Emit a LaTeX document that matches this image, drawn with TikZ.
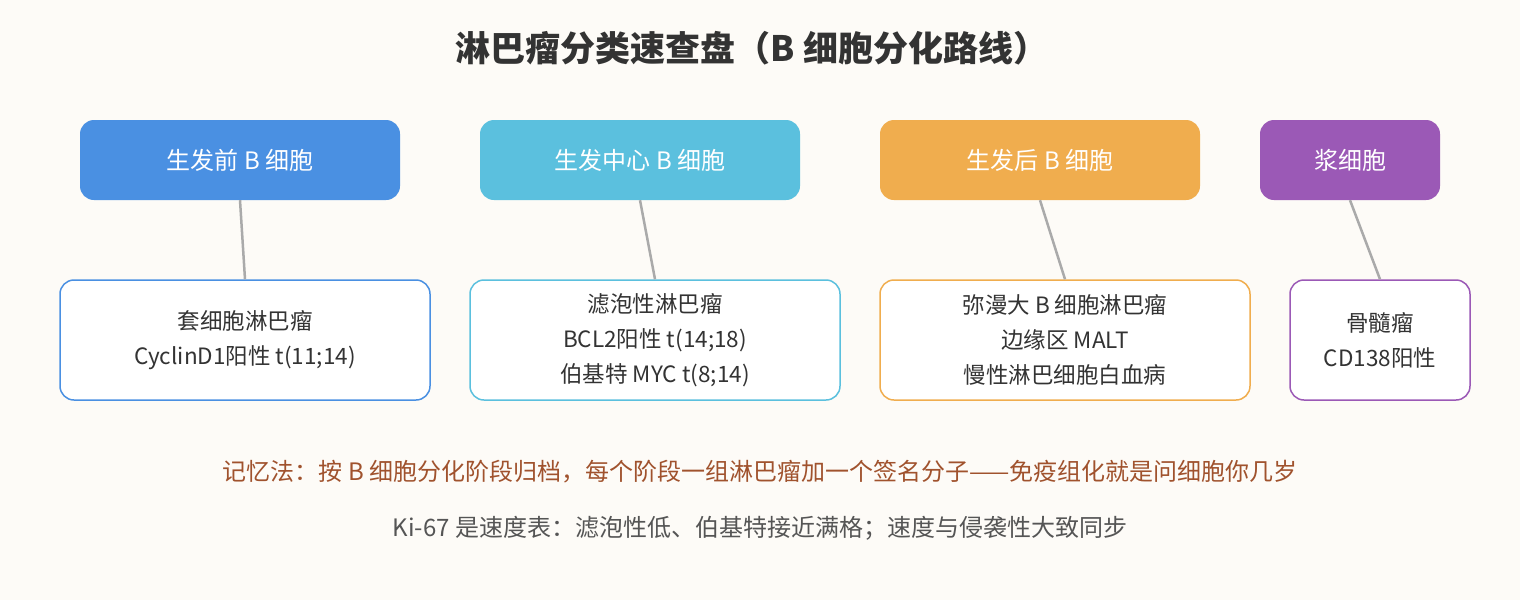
\documentclass[tikz,border=0pt]{standalone}
\usepackage{fontspec}
\setmainfont{Noto Sans CJK SC}
\begin{document}
\begin{tikzpicture}[x=1pt,y=-1pt,
 top/.style={rounded corners=14pt,text=white,font=\fontsize{24}{28}\selectfont,minimum height=80pt,inner sep=0pt},
 bot/.style={rounded corners=14pt,fill=white,draw,line width=1.5pt,text=txt,font=\fontsize{22.5}{35}\selectfont,minimum height=120pt,inner sep=0pt,align=center},
 link/.style={draw=lk,line width=2.5pt}]
\definecolor{bg}{HTML}{FDFBF7}\definecolor{txt}{HTML}{333333}\definecolor{lk}{HTML}{AAAAAA}
\definecolor{c1}{HTML}{4A90E2}\definecolor{c2}{HTML}{5BC0DE}\definecolor{c3}{HTML}{F0AD4E}\definecolor{c4}{HTML}{9B59B6}
\fill[bg] (0,0) rectangle (1520,600);
\useasboundingbox (0,0) rectangle (1520,600);
\node[font=\fontsize{35}{40}\selectfont\bfseries,text=txt] (title) at (752,48) {淋巴瘤分类速查盘（B 细胞分化路线）};
\node[top,fill=c1,minimum width=320pt] (t1) at (240,160) {生发前 B 细胞};
\node[top,fill=c2,minimum width=320pt] (t2) at (640,160) {生发中心 B 细胞};
\node[top,fill=c3,minimum width=320pt] (t3) at (1040,160) {生发后 B 细胞};
\node[top,fill=c4,minimum width=180pt] (t4) at (1350,160) {浆细胞};
\node[bot,draw=c1,minimum width=370pt] (b1) at (245,340) {套细胞淋巴瘤\\CyclinD1阳性 t(11;14)};
\node[bot,draw=c2,minimum width=370pt] (b2) at (655,340) {滤泡性淋巴瘤\\BCL2阳性 t(14;18)\\伯基特 MYC t(8;14)};
\node[bot,draw=c3,minimum width=370pt] (b3) at (1065,340) {弥漫大 B 细胞淋巴瘤\\边缘区 MALT\\慢性淋巴细胞白血病};
\node[bot,draw=c4,minimum width=180pt] (b4) at (1380,340) {骨髓瘤\\CD138阳性};
\foreach \i in {1,2,3,4} \draw[link] (t\i.south) -- (b\i.north);
\node[text={rgb,255:red,160;green,82;blue,45},font=\fontsize{24}{28}\selectfont] (m1) at (760,472) {记忆法：按 B 细胞分化阶段归档，每个阶段一组淋巴瘤加一个签名分子——免疫组化就是问细胞你几岁};
\node[text={rgb,255:red,85;green,85;blue,85},font=\fontsize{24}{28}\selectfont] (m2) at (760,528) {Ki-67 是速度表：滤泡性低、伯基特接近满格；速度与侵袭性大致同步};
\end{tikzpicture}
\end{document}
